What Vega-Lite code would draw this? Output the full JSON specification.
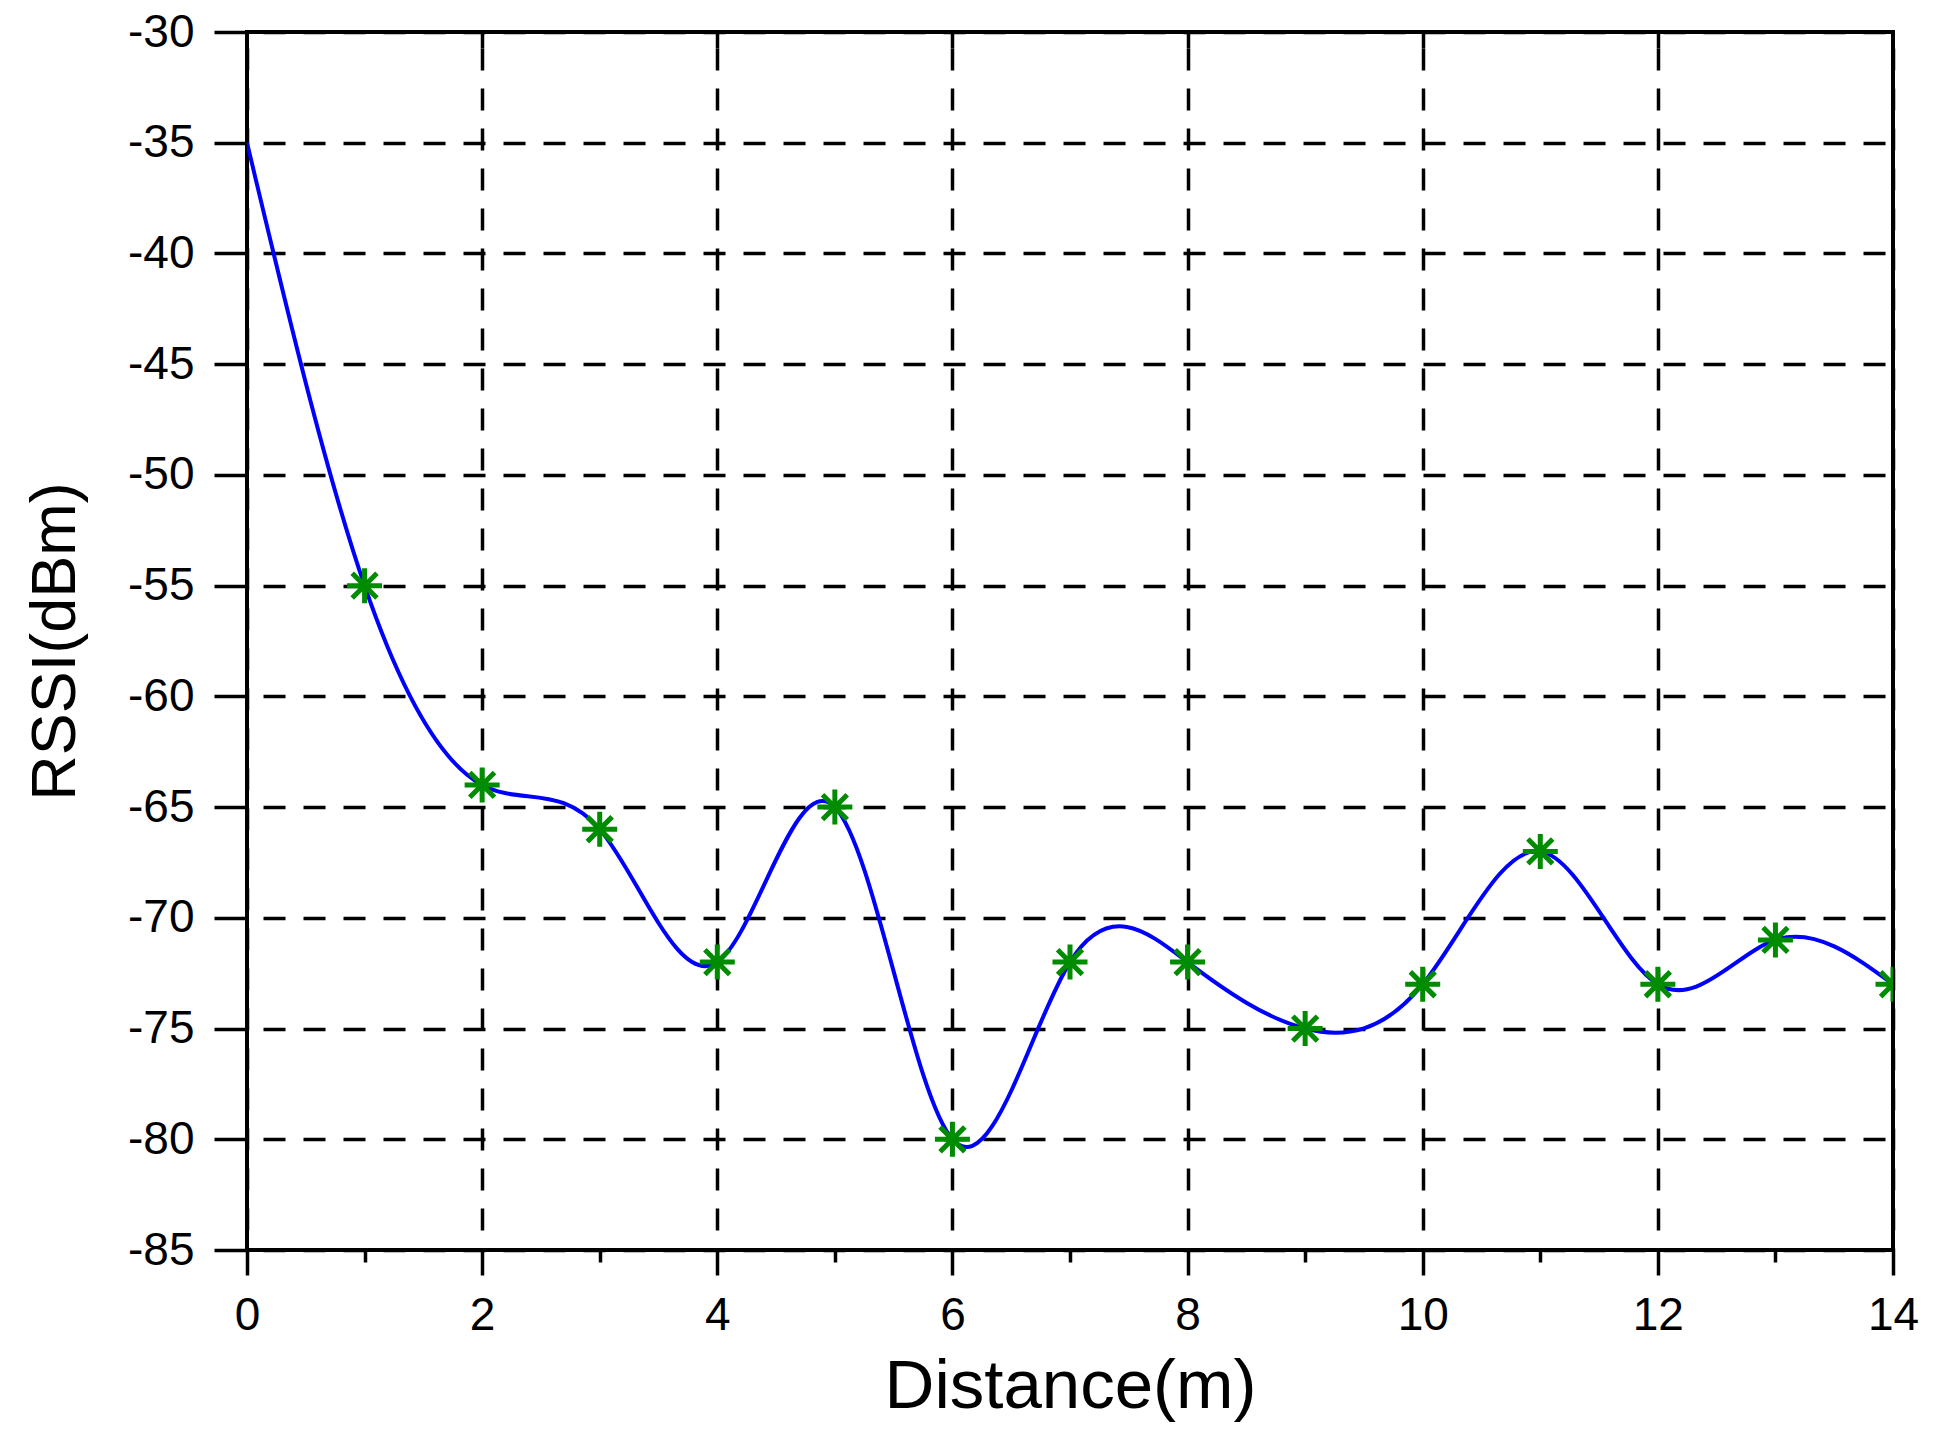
{
  "$schema": "https://vega.github.io/schema/vega-lite/v6.json",
  "width": 1646,
  "height": 1218,
  "autosize": {"type": "none"},
  "padding": {"left": 247, "top": 32, "right": 43, "bottom": 181},
  "background": "#ffffff",
  "data": {
    "values": [
      {"distance": 0, "rssi": -35},
      {"distance": 1, "rssi": -55},
      {"distance": 2, "rssi": -64},
      {"distance": 3, "rssi": -66},
      {"distance": 4, "rssi": -72},
      {"distance": 5, "rssi": -65},
      {"distance": 6, "rssi": -80},
      {"distance": 7, "rssi": -72},
      {"distance": 8, "rssi": -72},
      {"distance": 9, "rssi": -75},
      {"distance": 10, "rssi": -73},
      {"distance": 11, "rssi": -67},
      {"distance": 12, "rssi": -73},
      {"distance": 13, "rssi": -71},
      {"distance": 14, "rssi": -73}
    ]
  },
  "encoding": {
    "y": {
      "field": "rssi",
      "type": "quantitative",
      "scale": {"domain": [-85, -30], "nice": false, "zero": false},
      "axis": {
        "title": "RSSI(dBm)",
        "titleFontSize": 63,
        "values": [-85, -80, -75, -70, -65, -60, -55, -50, -45, -40, -35, -30],
        "grid": true,
        "tickSize": 33,
        "labelPadding": 20,
        "titlePadding": 40,
        "labelExpr": "'' + datum.value"
      }
    }
  },
  "layer": [
    {
      "mark": {"type": "line", "interpolate": "natural", "color": "#0000ff", "strokeWidth": 4, "clip": true},
      "encoding": {
        "x": {
          "field": "distance",
          "type": "quantitative",
          "scale": {"domain": [0, 14], "nice": false, "zero": false},
          "axis": {
            "orient": "bottom",
            "title": "Distance(m)",
            "titleFontSize": 69,
            "values": [0, 2, 4, 6, 8, 10, 12, 14],
            "grid": true,
            "tickSize": 25,
            "labelPadding": 18,
            "titlePadding": 14,
            "labelExpr": "'' + datum.value"
          }
        }
      }
    },
    {
      "transform": [{"filter": "datum.distance > 0"}],
      "mark": {
        "type": "point",
        "shape": "M-1,0L1,0M0,-1L0,1M-0.7071,-0.7071L0.7071,0.7071M-0.7071,0.7071L0.7071,-0.7071",
        "size": 1225,
        "filled": false,
        "stroke": "#008c00",
        "strokeWidth": 5,
        "opacity": 1,
        "clip": true
      },
      "encoding": {
        "x": {
          "field": "distance",
          "type": "quantitative",
          "axis": {
            "orient": "top",
            "title": null,
            "values": [2, 4, 6, 8, 10, 12],
            "labels": false,
            "grid": false,
            "tickSize": -16
          }
        }
      }
    },
    {
      "mark": {"type": "point", "opacity": 0},
      "encoding": {
        "x": {
          "field": "distance",
          "type": "quantitative",
          "axis": {
            "orient": "bottom",
            "title": null,
            "values": [1, 3, 5, 7, 9, 11, 13],
            "labels": false,
            "grid": false,
            "tickSize": 12
          }
        }
      }
    }
  ],
  "resolve": {"axis": {"x": "independent"}},
  "config": {
    "view": {"stroke": "#000000", "strokeWidth": 4},
    "axis": {
      "domain": false,
      "labelFont": "Liberation Sans",
      "labelFontSize": 46,
      "labelColor": "#000000",
      "labelFlush": false,
      "labelOverlap": false,
      "titleFont": "Liberation Sans",
      "titleFontWeight": "normal",
      "titleColor": "#000000",
      "tickColor": "#000000",
      "tickWidth": 3.5,
      "gridColor": "#000000",
      "gridOpacity": 1,
      "gridWidth": 3.5,
      "gridDash": [22, 18],
      "gridDashOffset": 24
    }
  }
}
